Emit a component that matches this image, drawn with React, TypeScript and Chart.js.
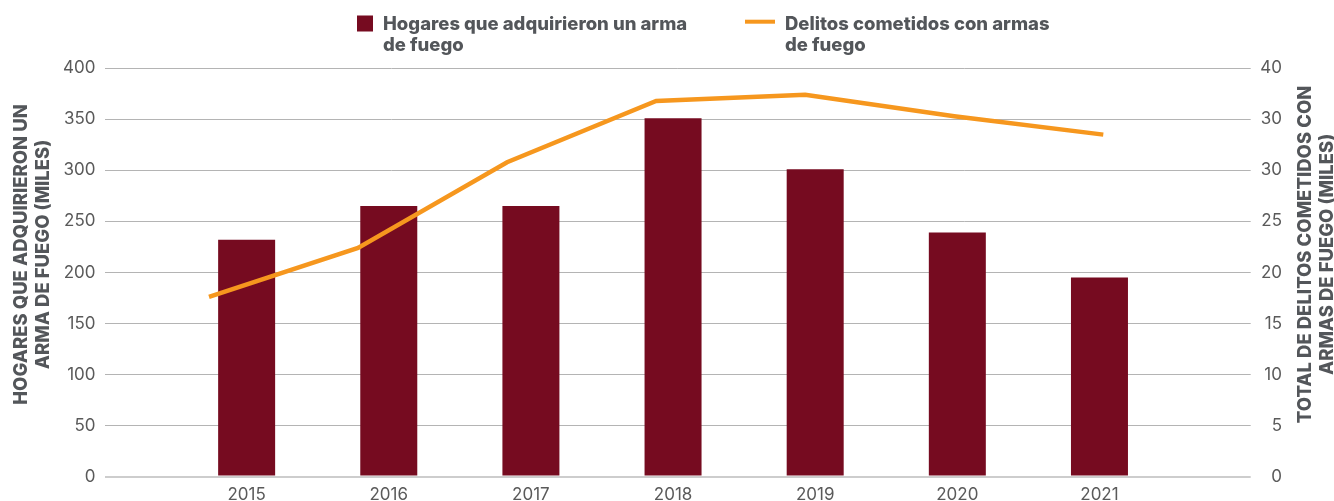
import React, { useEffect, useRef } from "react";
import { Chart, registerables } from "chart.js";

Chart.register(...registerables);

// ---- data ----
const years = [2015, 2016, 2017, 2018, 2019, 2020, 2021];
const householdsBought = [232, 265, 265, 351, 301, 239, 195]; // miles
const gunCrimes = [17.6, 22.4, 30.8, 36.8, 37.4, 35.3, 33.5]; // miles
const rightTickLabels = ["0", "5", "10", "15", "20", "25", "30", "30", "40"];
const seriesNames = ["Hogares que adquirieron un arma de fuego", "Delitos cometidos con armas de fuego"];
const legendLines1 = ["Hogares que adquirieron un arma", "de fuego"];
const legendLines2 = ["Delitos cometidos con armas", "de fuego"];
const leftTitleLines = ["HOGARES QUE ADQUIRIERON UN", "ARMA DE FUEGO (MILES)"];
const rightTitleLines = ["TOTAL DE DELITOS COMETIDOS CON", "ARMAS DE FUEGO (MILES)"];

// ---- styles ----
const BAR_COLOR = "#760b20";
const LINE_COLOR = "#f6971e";
const TEXT_DARK = "#53565a";
const TICK_COLOR = "#5a5a5a";
const GRID_COLOR = "#b4b4b4";
const ZERO_COLOR = "#cdcdcd";
const TICK_FONT = { family: "Inter", size: 17, weight: "normal" as const };
const BOLD_FAMILY = "Inter";
const BOLD_SIZE = 18.5;
const BOLD_WEIGHT = 800;

const decorPlugin = {
  id: "decor",
  afterDraw(chart: any) {
    const { ctx, chartArea } = chart;
    ctx.save();
    ctx.fillStyle = TEXT_DARK;
    ctx.font = `${BOLD_WEIGHT} ${BOLD_SIZE}px ${BOLD_FAMILY}`;
    ctx.textAlign = "left";
    ctx.textBaseline = "alphabetic";

    // legend item 1: square
    ctx.fillStyle = BAR_COLOR;
    ctx.fillRect(357, 15.5, 16, 16);
    ctx.fillStyle = TEXT_DARK;
    ctx.fillText(legendLines1[0], 383, 30);
    ctx.fillText(legendLines1[1], 383, 51);

    // legend item 2: line
    ctx.strokeStyle = LINE_COLOR;
    ctx.lineWidth = 4;
    ctx.beginPath();
    ctx.moveTo(745, 21.7);
    ctx.lineTo(775, 21.7);
    ctx.stroke();
    ctx.fillText(legendLines2[0], 785, 30);
    ctx.fillText(legendLines2[1], 785, 51);

    // axis titles (rotated)
    const capHalf = BOLD_SIZE * 0.727 / 2;
    const cy = (chartArea.top + chartArea.bottom) / 2 - 18;
    const drawRot = (lines: string[], xs: number[]) => {
      lines.forEach((t, i) => {
        ctx.save();
        ctx.translate(xs[i], cy);
        ctx.rotate(-Math.PI / 2);
        ctx.textAlign = "center";
        ctx.fillText(t, 0, capHalf);
        ctx.restore();
      });
    };
    drawRot(leftTitleLines, [chartArea.left - 84, chartArea.left - 62]);
    drawRot(rightTitleLines, [chartArea.right + 54, chartArea.right + 76]);
    ctx.restore();
  },
};

export default function App() {
  const ref = useRef<HTMLCanvasElement | null>(null);
  useEffect(() => {
    if (!ref.current) return;
    const chart = new Chart(ref.current, {
      type: "bar",
      data: {
        datasets: [
          {
            type: "line",
            label: seriesNames[1],
            data: years.map((x, i) => ({ x, y: gunCrimes[i] })),
            borderColor: LINE_COLOR,
            backgroundColor: LINE_COLOR,
            borderWidth: 4.5,
            pointRadius: 0,
            tension: 0,
            xAxisID: "x2",
            yAxisID: "y2",
            order: 1,
          } as any,
          {
            type: "bar",
            label: seriesNames[0],
            data: years.map((x, i) => ({ x, y: householdsBought[i] })),
            backgroundColor: BAR_COLOR,
            grouped: false,
            categoryPercentage: 1,
            barPercentage: 0.401,
            xAxisID: "x",
            yAxisID: "y",
            order: 2,
          } as any,
        ],
      },
      options: {
        animation: false,
        responsive: true,
        maintainAspectRatio: false,
        layout: { padding: { top: 68.3, left: 0, right: 52, bottom: 0 } },
        plugins: { legend: { display: false }, tooltip: { enabled: false } },
        scales: {
          x: {
            type: "linear",
            position: "bottom",
            min: 2014,
            max: 2022.064,
            offset: false,
            grid: { display: false, drawTicks: false },
            border: { display: false },
            afterBuildTicks: (s: any) => {
              s.ticks = years.map((v) => ({ value: v }));
            },
            afterFit: (s: any) => {
              s.height = 24.5;
            },
            ticks: {
              color: TICK_COLOR,
              font: TICK_FONT,
              padding: 8,
              maxRotation: 0,
              autoSkip: false,
              callback: (v: any) => String(v),
            },
          },
          x2: {
            type: "linear",
            min: 2014.299,
            max: 2021.989,
            offset: false,
            display: false,
          },
          y: {
            position: "left",
            min: 0,
            max: 400,
            border: { display: false },
            grid: {
              drawTicks: false,
              color: (c: any) => (c.tick && c.tick.value === 0 ? ZERO_COLOR : GRID_COLOR),
              lineWidth: (c: any) => (c.tick && c.tick.value === 0 ? 2 : 1),
            },
            ticks: { stepSize: 50, padding: 9, color: TICK_COLOR, font: TICK_FONT },
            afterFit: (s: any) => {
              s.width = 104.5;
            },
          },
          y2: {
            position: "right",
            min: 0,
            max: 40,
            border: { display: false },
            grid: { display: false, drawTicks: false },
            ticks: {
              stepSize: 5,
              padding: 8,
              crossAlign: "far",
              color: TICK_COLOR,
              font: TICK_FONT,
              callback: (_v: any, i: number) => rightTickLabels[i],
            },
            afterFit: (s: any) => {
              s.width = 31.3;
            },
          },
        },
      } as any,
      plugins: [decorPlugin],
    });
    return () => chart.destroy();
  }, []);

  return (
    <div style={{ position: "fixed", left: 0, top: 0, width: 1334, height: 501, background: "#fff" }}>
      <canvas ref={ref} />
    </div>
  );
}
